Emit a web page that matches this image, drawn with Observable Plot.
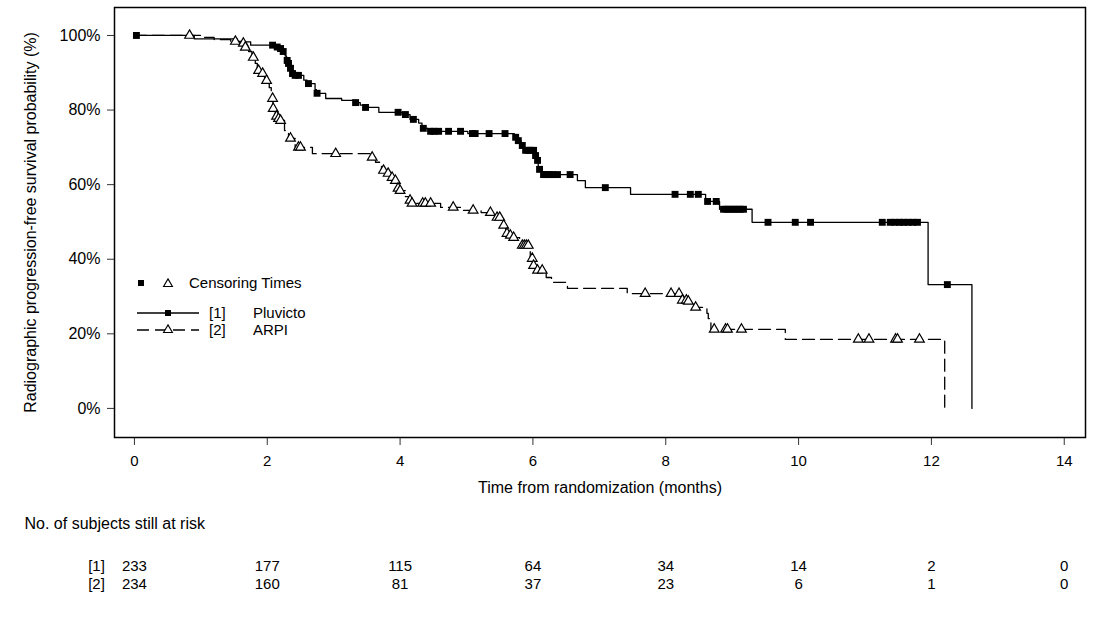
<!DOCTYPE html>
<html><head><meta charset="utf-8">
<script src="https://cdn.jsdelivr.net/npm/d3@7"></script>
<script src="https://cdn.jsdelivr.net/npm/@observablehq/plot@0.6"></script>
<style>
body{margin:0;background:#fff}
svg{font-family:"Liberation Sans",Arial,sans-serif}
</style>
</head><body><div id="chart"></div>
<script>
// ---- Data ----
const pluvictoEventTimes = [0, 0.90, 1.55, 1.75, 2.12, 2.18, 2.23, 2.27, 2.29, 2.31, 2.34, 2.37, 2.40, 2.55, 2.60, 2.72, 2.74, 2.88, 3.12, 3.30, 3.40, 3.46, 3.68, 4.03, 4.15, 4.28, 4.33, 4.42, 5.02, 5.72, 5.77, 5.82, 5.87, 6.02, 6.05, 6.08, 6.14, 6.67, 6.79, 7.47, 8.60, 8.81, 9.30, 11.95, 12.61];
const pluvictoSurvival   = [100, 99.1, 98.3, 97.4, 96.9, 96.5, 95.7, 94.5, 93.3, 92.5, 91.2, 89.8, 89.3, 88.0, 87.1, 85.5, 84.5, 83.1, 82.6, 82.0, 81.3, 80.7, 79.4, 78.8, 77.5, 76.5, 75.1, 74.3, 73.7, 72.7, 71.8, 70.5, 69.2, 67.8, 66.5, 64.1, 62.7, 61.1, 59.2, 57.4, 55.5, 53.4, 49.9, 33.2, 0];
const pluvictoCensorTimes = [0.03, 2.08, 2.15, 2.20, 2.24, 2.30, 2.32, 2.35, 2.38, 2.42, 2.47, 2.62, 2.75, 3.33, 3.48, 3.97, 4.08, 4.20, 4.35, 4.46, 4.51, 4.58, 4.73, 4.91, 5.09, 5.13, 5.34, 5.58, 5.74, 5.78, 5.84, 5.89, 5.93, 5.97, 6.01, 6.04, 6.07, 6.10, 6.16, 6.20, 6.25, 6.30, 6.37, 6.56, 7.09, 8.14, 8.37, 8.49, 8.63, 8.76, 8.87, 8.92, 8.97, 9.02, 9.07, 9.12, 9.17, 9.54, 9.95, 10.18, 11.26, 11.38, 11.45, 11.52, 11.58, 11.65, 11.72, 11.79, 12.24];

const arpiEventTimes = [0, 1.00, 1.20, 1.45, 1.62, 1.66, 1.72, 1.77, 1.82, 1.85, 1.91, 1.96, 2.03, 2.06, 2.085, 2.12, 2.16, 2.19, 2.26, 2.32, 2.42, 2.68, 3.55, 3.63, 3.72, 3.80, 3.86, 3.91, 3.95, 3.99, 4.08, 4.13, 4.17, 4.61, 4.95, 5.22, 5.43, 5.52, 5.55, 5.59, 5.64, 5.69, 5.80, 5.96, 6.00, 6.05, 6.20, 6.28, 6.52, 7.42, 8.23, 8.33, 8.42, 8.62, 8.64, 8.68, 9.80, 12.20];
const arpiSurvival   = [100, 99.5, 98.9, 98.4, 97.9, 96.8, 95.7, 94.1, 92.5, 90.6, 89.8, 87.9, 86.0, 83.1, 80.4, 78.3, 77.7, 77.2, 74.5, 72.4, 70.0, 68.3, 67.3, 66.0, 63.8, 63.0, 61.9, 61.1, 59.0, 58.4, 56.8, 55.8, 55.0, 53.9, 53.1, 52.5, 51.2, 50.4, 49.1, 46.9, 46.4, 45.8, 43.7, 40.2, 38.3, 37.0, 35.1, 33.8, 32.2, 30.8, 29.0, 28.7, 27.1, 25.5, 24.1, 21.2, 18.5, 0];
const arpiCensorTimes = [0.83, 1.52, 1.64, 1.67, 1.79, 1.87, 1.93, 1.99, 2.08, 2.09, 2.14, 2.17, 2.20, 2.35, 2.47, 2.50, 3.03, 3.58, 3.75, 3.82, 3.88, 3.93, 3.97, 4.00, 4.15, 4.18, 4.34, 4.38, 4.46, 4.80, 5.10, 5.36, 5.46, 5.50, 5.56, 5.61, 5.66, 5.71, 5.84, 5.87, 5.90, 5.93, 5.99, 6.01, 6.07, 6.14, 7.69, 8.08, 8.20, 8.25, 8.31, 8.34, 8.45, 8.73, 8.90, 8.93, 9.14, 10.90, 11.06, 11.46, 11.49, 11.82];

const riskTimes = [0, 2, 4, 6, 8, 10, 12, 14];
const riskPluvicto = [233, 177, 115, 64, 34, 14, 2, 0];
const riskArpi = [234, 160, 81, 37, 23, 6, 1, 0];
const xTicks = [0, 2, 4, 6, 8, 10, 12, 14];
const yTicks = [0, 20, 40, 60, 80, 100];

const armLabels = ["[1]", "[2]"];
const armNames = ["Pluvicto", "ARPI"];
const yTitle = "Radiographic progression-free survival probability (%)";
const xTitle = "Time from randomization (months)";
const riskTitle = "No. of subjects still at risk";
const censorTitle = "Censoring Times";

// ---- Build tables ----
function steps(times, surv) { return times.map((t, i) => ({t, s: surv[i]})); }
function survivalAt(times, surv, t) {
  let v = surv[0];
  for (let i = 0; i < times.length; i++) { if (times[i] <= t) v = surv[i]; else break; }
  return v;
}
const pluSteps = steps(pluvictoEventTimes, pluvictoSurvival);
const arpiSteps = steps(arpiEventTimes, arpiSurvival);
const pluCens = pluvictoCensorTimes.map(t => ({t, s: survivalAt(pluvictoEventTimes, pluvictoSurvival, t)}));
const arpiCens = arpiCensorTimes.map(t => ({t, s: survivalAt(arpiEventTimes, arpiSurvival, t)}));

const font = "'Liberation Sans', Arial, sans-serif";

const plot = Plot.plot({
  width: 1120, height: 629,
  marginLeft: 114, marginRight: 35, marginTop: 7, marginBottom: 192,
  x: {domain: [-0.30, 14.32]},
  y: {domain: [-7.8, 107.5]},
  style: {fontFamily: font, fontSize: "15px", color: "#000", background: "#fff", overflow: "visible"},
  marks: [
    Plot.axisY(yTicks, {tickFormat: d => d + "%", tickSize: 7, tickPadding: 7, label: null, fontSize: 16, stroke: "#333"}),
    Plot.axisX(xTicks, {tickSize: 8, tickPadding: 10, label: null, fontSize: 15, stroke: "#333"}),
    Plot.line(arpiSteps, {x: "t", y: "s", curve: "step-after", stroke: "#000", strokeWidth: 1.3, strokeDasharray: "12,6"}),
    Plot.line(pluSteps, {x: "t", y: "s", curve: "step-after", stroke: "#000", strokeWidth: 1.3}),
    Plot.dot(arpiCens, {x: "t", y: "s", symbol: "triangle", r: 3.6, stroke: "#000", fill: "#fff", strokeWidth: 1.2}),
    Plot.dot(pluCens, {x: "t", y: "s", symbol: "square", r: 3.9, fill: "#000"}),
    Plot.frame({stroke: "#000", strokeWidth: 1.5}),
    Plot.text([yTitle], {text: d => d, frameAnchor: "left", textAnchor: "middle", dx: -84, rotate: -90, fontSize: 16}),
    Plot.text([xTitle], {text: d => d, frameAnchor: "bottom", dy: 55, fontSize: 16}),
    Plot.text([riskTitle], {text: d => d, frameAnchor: "bottom-left", dx: -90, dy: 91, textAnchor: "start", fontSize: 16}),
    Plot.text([armLabels[0]], {text: d => d, frameAnchor: "bottom-left", textAnchor: "middle", dx: -18, dy: 133, fontSize: 15}),
    Plot.text([armLabels[1]], {text: d => d, frameAnchor: "bottom-left", textAnchor: "middle", dx: -18, dy: 151, fontSize: 15}),
    Plot.text(riskTimes, {x: d => d, text: (d, i) => String(riskPluvicto[i]), frameAnchor: "bottom", dy: 133, fontSize: 15}),
    Plot.text(riskTimes, {x: d => d, text: (d, i) => String(riskArpi[i]), frameAnchor: "bottom", dy: 151, fontSize: 15})
  ]
});
document.getElementById("chart").appendChild(plot);

// ---- Legend inside the plot area ----
const svg = d3.select(plot);
const lg = svg.append("g").attr("font-family", font).attr("font-size", 15).attr("fill", "#000").attr("text-anchor", "start");
const sq = d3.symbol(d3.symbolSquare, 36);
const tri = d3.symbol(d3.symbolTriangle, 34);
lg.append("path").attr("d", sq()).attr("transform", "translate(141,283)").attr("fill", "#000");
lg.append("path").attr("d", tri()).attr("transform", "translate(168,284)").attr("fill", "#fff").attr("stroke", "#000").attr("stroke-width", 1.1);
lg.append("text").attr("x", 189).attr("y", 283).attr("dy", "0.35em").attr("text-anchor", "start").text(censorTitle);

lg.append("line").attr("x1", 137).attr("x2", 199).attr("y1", 313).attr("y2", 313).attr("stroke", "#000").attr("stroke-width", 1.3);
lg.append("path").attr("d", sq()).attr("transform", "translate(168,313)").attr("fill", "#000");
lg.append("text").attr("x", 209).attr("y", 313).attr("dy", "0.35em").attr("text-anchor", "start").text(armLabels[0]);
lg.append("text").attr("x", 253).attr("y", 313).attr("dy", "0.35em").attr("text-anchor", "start").text(armNames[0]);

lg.append("line").attr("x1", 137).attr("x2", 199).attr("y1", 330).attr("y2", 330).attr("stroke", "#000").attr("stroke-width", 1.3).attr("stroke-dasharray", "12,6");
lg.append("path").attr("d", tri()).attr("transform", "translate(168,330)").attr("fill", "#fff").attr("stroke", "#000").attr("stroke-width", 1.1);
lg.append("text").attr("x", 209).attr("y", 330).attr("dy", "0.35em").attr("text-anchor", "start").text(armLabels[1]);
lg.append("text").attr("x", 253).attr("y", 330).attr("dy", "0.35em").attr("text-anchor", "start").text(armNames[1]);
</script>
</body></html>
